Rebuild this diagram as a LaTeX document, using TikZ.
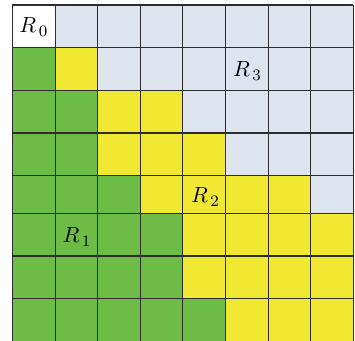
\documentclass[tikz,border=0pt]{standalone}
\usepackage{tikz}
\definecolor{cellW}{RGB}{255,255,255}
\definecolor{cellB}{RGB}{222,228,238}
\definecolor{cellG}{RGB}{108,188,69}
\definecolor{cellY}{RGB}{240,232,50}
\definecolor{gridline}{RGB}{45,45,45}

\begin{document}
\begin{tikzpicture}[
  x=0.5pt, y=-0.5pt,
  gridl/.style={draw=gridline, line width=0.55pt},
  region/.style={font=\fontsize{11}{13}\selectfont, inner sep=0pt}
]
  \useasboundingbox (0,0) rectangle (355,341);
  % cells, row by row
  \foreach \ya/\yb/\row in {
      5/47.7/{W,B,B,B,B,B,B,B},
      47.7/90.3/{G,Y,B,B,B,B,B,B},
      90.3/133/{G,G,Y,Y,B,B,B,B},
      133/175.7/{G,G,Y,Y,Y,B,B,B},
      175.7/213.5/{G,G,G,Y,Y,Y,Y,B},
      213.5/256/{G,G,G,G,Y,Y,Y,Y},
      256/298.7/{G,G,G,G,Y,Y,Y,Y},
      298.7/345/{G,G,G,G,G,Y,Y,Y}}{
    \foreach \f [count=\c from 0] in \row {
      \fill[cell\f] ({12.5+42.6*\c},\ya) rectangle ({12.5+42.6*(\c+1)},\yb);
    }
  }
  % grid lines
  \foreach \c in {0,...,8}
    \draw[gridl] ({12.5+42.6*\c},5) -- ({12.5+42.6*\c},345);
  \foreach \y in {5,47.7,90.3,133,175.7,213.5,256,298.7}
    \draw[gridl] (12.5,\y) -- (353.3,\y);
  % region labels
  \node[region] (r0) at (33.8,27) {$R_{\,0}$};
  \node[region] (r1) at (77,237) {$R_{\,1}$};
  \node[region] (r2) at (205.5,197) {$R_{\,2}$};
  \node[region] (r3) at (247.5,71) {$R_{\,3}$};
\end{tikzpicture}
\end{document}
